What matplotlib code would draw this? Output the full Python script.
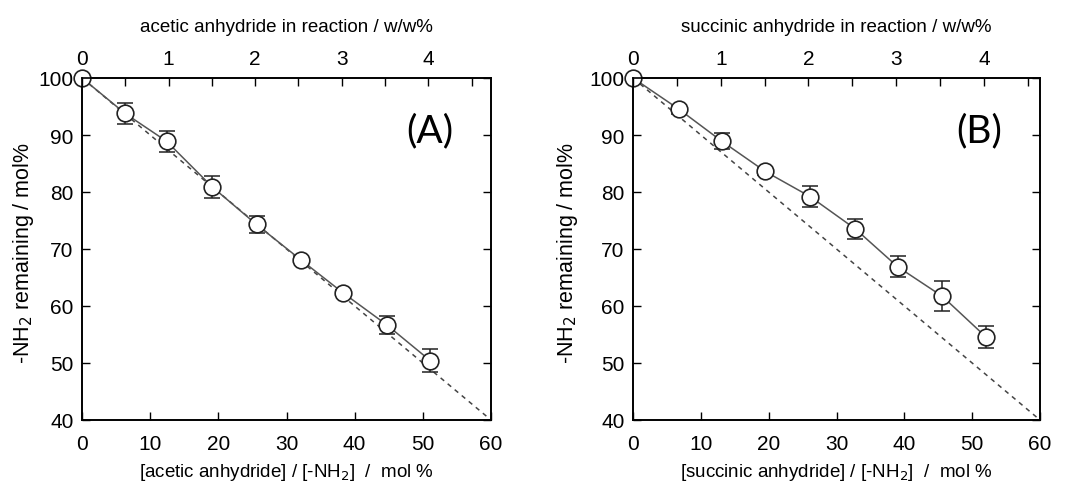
import numpy as np
import matplotlib.pyplot as plt

plt.rcParams['font.family'] = ['Liberation Sans', 'DejaVu Sans']

# panel A: acetic anhydride
x_a = [0, 6.3, 12.4, 19.1, 25.6, 32.1, 38.3, 44.7, 51.1]
y_a = [100, 93.8, 88.9, 80.9, 74.3, 68.1, 62.3, 56.7, 50.4]
err_a = [0, 1.8, 1.8, 1.9, 1.5, 0.5, 0.5, 1.6, 2.0]

# panel B: succinic anhydride
x_b = [0, 6.8, 13.1, 19.5, 26.1, 32.8, 39.0, 45.6, 52.0]
y_b = [100, 94.5, 88.9, 83.6, 79.2, 73.5, 66.9, 61.7, 54.6]
err_b = [0, 0.8, 1.4, 0.6, 1.8, 1.7, 1.8, 2.6, 1.9]

# top axis: w/w % and mol% per w/w %
ww_ticks = [0, 1, 2, 3, 4]
ww_factor_a = 12.7
ww_factor_b = 12.93

fig = plt.figure(figsize=(10.77, 4.89), dpi=100)
ax1 = fig.add_axes([82 / 1077, 1 - 421 / 489, 409 / 1077, 342 / 489])
ax2 = fig.add_axes([633 / 1077, 1 - 421 / 489, 407 / 1077, 342 / 489])

panels = [
    (ax1, x_a, y_a, err_a, ww_factor_a, 'acetic anhydride', '(A)', -0.112),
    (ax2, x_b, y_b, err_b, ww_factor_b, 'succinic anhydride', '(B)', -0.130),
]

for ax, x, y, err, fac, name, tag, ylab_x in panels:
    ax.plot([0, 60], [100, 40], ls=(0, (3, 3)), color='#444444', lw=1.1, zorder=1)
    ax.errorbar(x, y, yerr=err, fmt='-', color='#555555', lw=1.1,
                ecolor='#222222', elinewidth=1.1, capsize=6, capthick=1.1, zorder=2)
    ax.plot(x, y, 'o', ms=12, mfc='white', mec='#222222', mew=1.2,
            clip_on=False, zorder=3)
    ax.set_xlim(0, 60)
    ax.set_ylim(40, 100)
    ax.set_xticks(np.arange(0, 61, 10))
    ax.set_yticks(np.arange(40, 101, 10))
    ax.tick_params(direction='in', length=6, width=1, labelsize=15, right=True)
    ax.tick_params(axis='x', pad=10)
    ax.tick_params(axis='y', pad=6)
    for s in ax.spines.values():
        s.set_linewidth(1.2)
    ax.set_xlabel('[' + name + '] / [-NH$_2$]  /  mol %', fontsize=13.5, labelpad=6)
    ax.set_ylabel('-NH$_2$ remaining / mol%', fontsize=15.5)
    ax.yaxis.set_label_coords(ylab_x, 0.49)
    ax.text(51, 90.8, tag, fontsize=28, family=['Lato', 'DejaVu Sans'],
            ha='center', va='center')

    top = ax.twiny()
    top.set_xlim(0, 60)
    top.set_xticks([w * fac for w in ww_ticks])
    top.set_xticklabels([str(w) for w in ww_ticks])
    top.set_xticks([(w + 0.5) * fac for w in ww_ticks], minor=True)
    top.tick_params(which='both', direction='in', length=6, width=1,
                    labelsize=15, pad=7)
    top.set_xlabel(name + ' in reaction / w/w%', fontsize=13.5, labelpad=13)
    for s in top.spines.values():
        s.set_linewidth(1.2)

fig.savefig('out.png', dpi=100)
